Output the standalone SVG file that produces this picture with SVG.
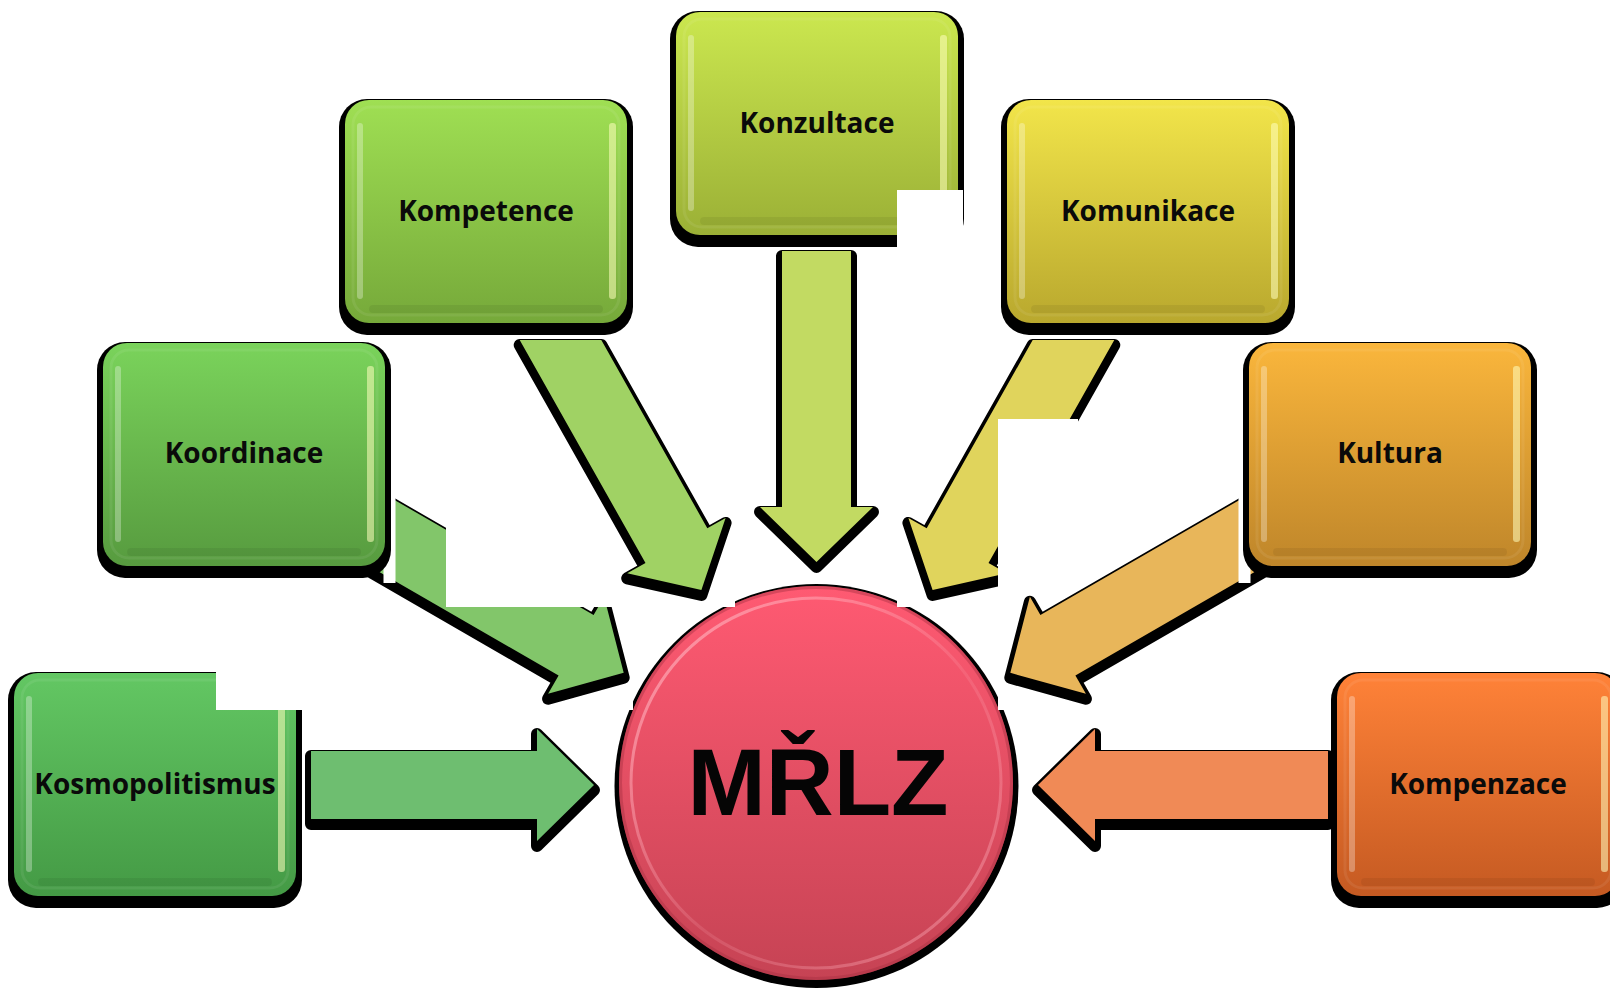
<svg xmlns="http://www.w3.org/2000/svg" xmlns:xlink="http://www.w3.org/1999/xlink" width="1610" height="991" viewBox="0 0 1610 991">
<style>
.lbl{font-family:"Open Sans","Noto Sans","DejaVu Sans",sans-serif;font-weight:700;font-size:28px;fill:#0a0a0a;text-anchor:middle}
.big{font-family:"Liberation Sans",Arial,sans-serif;font-weight:700;font-size:94px;fill:#050505;text-anchor:middle}
.shd{fill:#000}
.ashd{fill:#000;stroke:#000;stroke-width:12;stroke-linejoin:round}
.wp{fill:#fff}
</style>
<defs>
<linearGradient id="gKonz" x1="0" y1="0" x2="0" y2="1"><stop offset="0" stop-color="#cbe74f"/><stop offset="1" stop-color="#9bb036"/></linearGradient>
<linearGradient id="gKomp" x1="0" y1="0" x2="0" y2="1"><stop offset="0" stop-color="#9fdf53"/><stop offset="1" stop-color="#76a93a"/></linearGradient>
<linearGradient id="gKoor" x1="0" y1="0" x2="0" y2="1"><stop offset="0" stop-color="#7ad35b"/><stop offset="1" stop-color="#579b3f"/></linearGradient>
<linearGradient id="gKosm" x1="0" y1="0" x2="0" y2="1"><stop offset="0" stop-color="#63c763"/><stop offset="1" stop-color="#449a45"/></linearGradient>
<linearGradient id="gKomu" x1="0" y1="0" x2="0" y2="1"><stop offset="0" stop-color="#f2e54a"/><stop offset="1" stop-color="#b9a82e"/></linearGradient>
<linearGradient id="gKult" x1="0" y1="0" x2="0" y2="1"><stop offset="0" stop-color="#fab63c"/><stop offset="1" stop-color="#bf862a"/></linearGradient>
<linearGradient id="gKmpz" x1="0" y1="0" x2="0" y2="1"><stop offset="0" stop-color="#ff8238"/><stop offset="1" stop-color="#c55a22"/></linearGradient>
<linearGradient id="gCirc" x1="0" y1="0" x2="0" y2="1"><stop offset="0" stop-color="#ff5a72"/><stop offset="1" stop-color="#c64354"/></linearGradient>
<linearGradient id="gRing" x1="0" y1="0" x2="1" y2="1"><stop offset="0" stop-color="#ffb0bc" stop-opacity="0.8"/><stop offset="0.55" stop-color="#ffb0bc" stop-opacity="0.15"/><stop offset="1" stop-color="#ffb0bc" stop-opacity="0.5"/></linearGradient>
<rect id="boxShadow" x="-6" y="0" width="294" height="236" rx="28"/>
<rect id="boxShape" x="0" y="1" width="282" height="223" rx="24"/>
<g id="boxGloss">
<rect x="8" y="8" width="266" height="208" rx="18" fill="none" stroke="#ffffff" stroke-opacity="0.07" stroke-width="3"/>
<rect x="12" y="24" width="6" height="176" rx="3" fill="#ffffff" opacity="0.3"/>
<rect x="264" y="24" width="7" height="176" rx="3" fill="#ffffc0" opacity="0.55"/>
<rect x="24" y="206" width="234" height="8" rx="4" fill="#000" opacity="0.06"/>
</g>
<polygon id="aKoor" points="372,487 593.6,615 604.1,596.8 623.7,672.8 548.1,693.8 558.6,675.6 372,567.8"/>
<polygon id="aKomp" points="519.7,340 601.3,340 707.3,528.2 725.6,517.9 701.4,590 627.2,573.3 645.5,563"/>
<polygon id="aKonz" points="782,251 851,251 851,507 873,507 816.5,562 760,507 782,507"/>
<polygon id="aKomu" points="1114.3,340 1032.7,340 926.7,528.2 908.4,517.9 932.6,590 1006.8,573.3 988.5,563"/>
<polygon id="aKult" points="1262,487 1040.4,615 1029.9,596.8 1010.3,672.8 1085.9,693.8 1075.4,675.6 1262,567.8"/>
<polygon id="aKosm" points="311,751 537,751 537,729 594,785 537,841 537,819 311,819"/>
<polygon id="aKmpz" points="1328,751 1095,751 1095,729 1038,785 1095,841 1095,819 1328,819"/>
</defs>
<rect x="0" y="0" width="1610" height="991" fill="#ffffff"/>

<g id="node-mrlz">
<circle cx="816.5" cy="786" r="202" class="shd"/>
<circle cx="816" cy="783" r="197" fill="url(#gCirc)"/>
<circle cx="816" cy="783" r="185" fill="none" stroke="url(#gRing)" stroke-width="3"/>
<circle cx="816" cy="783" r="195.5" fill="none" stroke="#a83042" stroke-opacity="0.45" stroke-width="3"/>
<text x="818" y="815" class="big">MŘLZ</text>
</g>

<g id="connectors">
<rect class="wp" x="590" y="600" width="43" height="110"/>
<g id="arrow-koordinace"><use href="#aKoor" class="ashd" transform="translate(0,5)"/><use href="#aKoor" fill="#82c66a"/></g>
<rect class="wp" x="446" y="480" width="289" height="127"/>
<g id="arrow-kompetence"><use href="#aKomp" class="ashd" transform="translate(0,5)"/><use href="#aKomp" fill="#a0d264"/></g>
<rect class="wp" x="897" y="560" width="101" height="47"/>
<g id="arrow-komunikace"><use href="#aKomu" class="ashd" transform="translate(0,5)"/><use href="#aKomu" fill="#e0d45c"/></g>
<rect class="wp" x="998" y="419" width="80" height="291"/>
<g id="arrow-kultura"><use href="#aKult" class="ashd" transform="translate(0,5)"/><use href="#aKult" fill="#e8b65a"/></g>
<g id="arrow-konzultace"><use href="#aKonz" class="ashd" transform="translate(0,5)"/><use href="#aKonz" fill="#c2da62"/></g>
<g id="arrow-kosmopolitismus"><use href="#aKosm" class="ashd" transform="translate(0,5)"/><use href="#aKosm" fill="#6ebe70"/></g>
<g id="arrow-kompenzace"><use href="#aKmpz" class="ashd" transform="translate(0,5)"/><use href="#aKmpz" fill="#f08a56"/></g>
<rect class="wp" x="383.5" y="470" width="12" height="113"/>
<rect class="wp" x="1238.5" y="470" width="12" height="113"/>
</g>

<g id="node-konzultace" transform="translate(676,11)">
<use href="#boxShadow" class="shd"/><use href="#boxShape" fill="url(#gKonz)"/><use href="#boxGloss"/>
<text x="141" y="122" class="lbl">Konzultace</text>
</g>
<g id="node-kompetence" transform="translate(345,99)">
<use href="#boxShadow" class="shd"/><use href="#boxShape" fill="url(#gKomp)"/><use href="#boxGloss"/>
<text x="141" y="122" class="lbl">Kompetence</text>
</g>
<g id="node-komunikace" transform="translate(1007,99)">
<use href="#boxShadow" class="shd"/><use href="#boxShape" fill="url(#gKomu)"/><use href="#boxGloss"/>
<text x="141" y="122" class="lbl">Komunikace</text>
</g>
<g id="node-koordinace" transform="translate(103,342)">
<use href="#boxShadow" class="shd"/><use href="#boxShape" fill="url(#gKoor)"/><use href="#boxGloss"/>
<text x="141" y="121" class="lbl">Koordinace</text>
</g>
<g id="node-kultura" transform="translate(1249,342)">
<use href="#boxShadow" class="shd"/><use href="#boxShape" fill="url(#gKult)"/><use href="#boxGloss"/>
<text x="141" y="121" class="lbl">Kultura</text>
</g>
<g id="node-kosmopolitismus" transform="translate(14,672)">
<use href="#boxShadow" class="shd"/><use href="#boxShape" fill="url(#gKosm)"/><use href="#boxGloss"/>
<text x="141" y="122" class="lbl">Kosmopolitismus</text>
</g>
<g id="node-kompenzace" transform="translate(1337,672)">
<use href="#boxShadow" class="shd"/><use href="#boxShape" fill="url(#gKmpz)"/><use href="#boxGloss"/>
<text x="141" y="122" class="lbl">Kompenzace</text>
</g>

<g id="blank-patches">
<rect class="wp" x="897" y="190" width="66" height="57"/>
<rect class="wp" x="216" y="660" width="86" height="50"/>
</g>
</svg>
